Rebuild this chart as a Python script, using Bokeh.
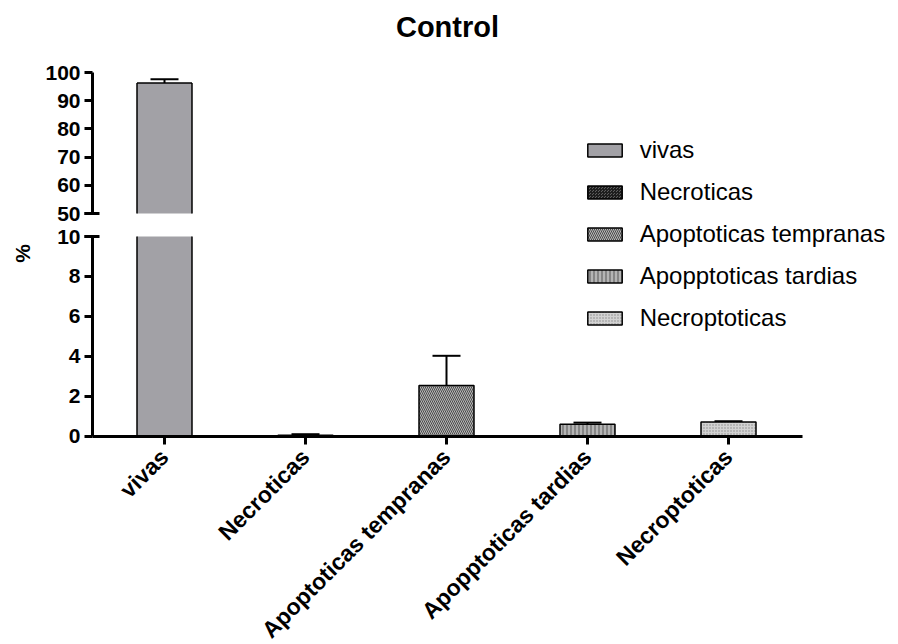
import math
from bokeh.plotting import figure
from bokeh.models import (Range1d, LinearAxis, FixedTicker, ColumnDataSource, Whisker,
                          TeeHead, Legend, LegendItem, Label)
from bokeh.embed import file_html
from bokeh.resources import INLINE

# ---------------- data ----------------
categories = ["vivas", "Necroticas", "Apoptoticas tempranas", "Apopptoticas tardias", "Necroptoticas"]
means = [96.3, 0.04, 2.53, 0.59, 0.70]
sds = [1.3, 0.05, 1.49, 0.08, 0.04]
lower_ticks = [0, 2, 4, 6, 8, 10]
upper_ticks = [50, 60, 70, 80, 90, 100]
title_text = "Control"
y_label = "%"

# ---------------- styles ----------------
fills = ["#a2a1a6", "#5e5e5e", "#b8b8b8", "#b4b4b4", "#d2d2d2"]
hatches = [None, "criss_cross", "left_diagonal_line", "vertical_line", "dot"]
hatch_colors = ["black", "#1e1e1e", "#4a4a4a", "#555555", "#8a8a8a"]
hatch_scales = [4, 3, 4, 4, 3]
FONT = "Liberation Sans"

# ---------------- layout (pixels, canvas top-left = page top-left) ----------------
W, H = 896, 642
axis_x_px = 92.0         # y-axis line, from canvas left
axis_right_px = 802.0    # end of x-axis line
first_center_px = 164.0  # first category centre
px_per_cat = 141.0
zero_px = H - 435.5      # y=0 line, from canvas bottom
lower_span_px = 199.5    # 0..10
gap_px = 23.0            # break gap
upper_span_px = 141.0    # 50..100

x_start = -first_center_px / px_per_cat
x_end = x_start + W / px_per_cat
axis_x = x_start + axis_x_px / px_per_cat
axis_x_end = x_start + axis_right_px / px_per_cat

lo_scale = lower_span_px / (lower_ticks[-1] - lower_ticks[0])
lower_start = lower_ticks[0] - zero_px / lo_scale
lower_end = lower_start + H / lo_scale
up_scale = upper_span_px / (upper_ticks[-1] - upper_ticks[0])
upper_start = upper_ticks[0] - (zero_px + lower_span_px + gap_px) / up_scale
upper_end = upper_start + H / up_scale

bar_w = 0.39

p = figure(width=W, height=H, output_backend="svg", toolbar_location=None,
           x_range=Range1d(x_start, x_end), y_range=Range1d(lower_start, lower_end),
           x_axis_type=None, y_axis_type=None,
           min_border_left=0, min_border_right=0, min_border_top=0, min_border_bottom=0)
p.extra_y_ranges = {"upper": Range1d(upper_start, upper_end)}
p.outline_line_color = None
p.background_fill_color = "white"
p.border_fill_color = "white"

xs = list(range(len(categories)))
lo_top = lower_ticks[-1]
up_bot = upper_ticks[0]

# ---------------- bars ----------------
renderers = []
for i, m in enumerate(means):
    broken = m > up_bot
    style = dict(width=bar_w, fill_color=fills[i],
                 line_color=None if broken else "black", line_width=1.5,
                 hatch_pattern=hatches[i], hatch_color=hatch_colors[i],
                 hatch_scale=hatch_scales[i], hatch_weight=1)
    src_low = ColumnDataSource(dict(x=[xs[i]], top=[min(m, lo_top)]))
    r = p.vbar(x="x", top="top", bottom=lower_ticks[0], source=src_low, **style)
    renderers.append(r)
    if broken:
        src_up = ColumnDataSource(dict(x=[xs[i]], top=[m]))
        p.vbar(x="x", top="top", bottom=up_bot, source=src_up,
               y_range_name="upper", **style)
        # outline of the broken bar: side edges in both segments and the top edge
        xl, xr = xs[i] - bar_w / 2, xs[i] + bar_w / 2
        p.segment(x0=[xl, xr], y0=[lower_ticks[0]] * 2, x1=[xl, xr], y1=[lo_top] * 2,
                  line_color="black", line_width=1.5)
        p.segment(x0=[xl, xr, xl], y0=[up_bot, up_bot, m], x1=[xl, xr, xr], y1=[m, m, m],
                  line_color="black", line_width=1.5, y_range_name="upper")
# legend proxy keeps the outlined swatch for every category
legend_renderers = []
for i in xs:
    src = ColumnDataSource(dict(x=[xs[i]], top=[means[i]]))
    lr = p.vbar(x="x", top="top", bottom=0, width=bar_w, source=src, fill_color=fills[i],
                line_color="black", line_width=1.5, hatch_pattern=hatches[i],
                hatch_color=hatch_colors[i], hatch_scale=hatch_scales[i], hatch_weight=1,
                visible=False)
    legend_renderers.append(lr)

# ---------------- error bars ----------------
low_i = [i for i, m in enumerate(means) if m <= lo_top]
up_i = [i for i, m in enumerate(means) if m > up_bot]

src_wl = ColumnDataSource(dict(x=[xs[i] for i in low_i],
                               lower=[means[i] for i in low_i],
                               upper=[means[i] + sds[i] for i in low_i]))
p.add_layout(Whisker(source=src_wl, base="x", lower="lower", upper="upper",
                     line_width=2, line_color="black", lower_head=None,
                     upper_head=TeeHead(size=28, line_width=2, line_color="black")))

src_wu = ColumnDataSource(dict(x=[xs[i] for i in up_i],
                               lower=[means[i] - sds[i] for i in up_i],
                               upper=[means[i] + sds[i] for i in up_i]))
p.add_layout(Whisker(source=src_wu, base="x", lower="lower", upper="upper",
                     y_range_name="upper", line_width=2, line_color="black",
                     lower_head=TeeHead(size=28, line_width=2, line_color="black"),
                     upper_head=TeeHead(size=28, line_width=2, line_color="black")))

# ---------------- axes ----------------
def style_axis(ax, size="21px"):
    ax.axis_line_width = 3
    ax.axis_line_color = "black"
    ax.major_tick_line_width = 3
    ax.major_tick_line_color = "black"
    ax.major_tick_out = 8
    ax.major_tick_in = 0
    ax.minor_tick_out = 0
    ax.minor_tick_in = 0
    ax.major_label_text_font = FONT
    ax.major_label_text_font_style = "bold"
    ax.major_label_text_font_size = size
    ax.major_label_text_color = "black"
    ax.major_label_standoff = 4

ax_low = LinearAxis(ticker=FixedTicker(ticks=lower_ticks),
                    bounds=(lower_ticks[0], lo_top), fixed_location=axis_x)
style_axis(ax_low)
p.add_layout(ax_low, "left")

ax_up = LinearAxis(y_range_name="upper", ticker=FixedTicker(ticks=upper_ticks),
                   bounds=(up_bot, upper_ticks[-1]), fixed_location=axis_x)
style_axis(ax_up)
p.add_layout(ax_up, "left")

# break marks (ticks crossing the axis at the break)
brk_lo = LinearAxis(ticker=FixedTicker(ticks=[lo_top]), fixed_location=axis_x,
                    major_label_overrides={lo_top: ""})
style_axis(brk_lo)
brk_lo.axis_line_color = None
brk_lo.major_tick_in = 7
p.add_layout(brk_lo, "left")
brk_up = LinearAxis(y_range_name="upper", ticker=FixedTicker(ticks=[up_bot]),
                    fixed_location=axis_x, major_label_overrides={up_bot: ""})
style_axis(brk_up)
brk_up.axis_line_color = None
brk_up.major_tick_in = 7
p.add_layout(brk_up, "left")

ax_x = LinearAxis(ticker=FixedTicker(ticks=xs), fixed_location=lower_ticks[0],
                  bounds=(axis_x, axis_x_end),
                  major_label_overrides={i: c for i, c in zip(xs, categories)},
                  major_label_orientation=math.pi / 4)
style_axis(ax_x, size="23px")
ax_x.major_label_standoff = 9
p.add_layout(ax_x, "below")

# ---------------- legend ----------------
legend = Legend(items=[LegendItem(label=c, renderers=[r]) for c, r in zip(categories, legend_renderers)],
                location=(582.7, H - 332), orientation="vertical",
                glyph_width=43, glyph_height=16, label_standoff=14,
                label_text_font=FONT, label_text_font_size="24px", label_text_color="black",
                label_height=28, spacing=14, padding=0, margin=0,
                border_line_color=None, background_fill_alpha=0)
p.add_layout(legend)

# ---------------- title and y label ----------------
p.add_layout(Label(x=447, y=H - 26, x_units="screen", y_units="screen",
                   text=title_text, text_align="center", text_baseline="middle",
                   text_font=FONT, text_font_style="bold", text_font_size="29px",
                   text_color="black"))
p.add_layout(Label(x=22, y=H - 253, x_units="screen", y_units="screen",
                   text=y_label, angle=math.pi / 2, text_align="center", text_baseline="middle",
                   text_font=FONT, text_font_style="bold", text_font_size="21px",
                   text_color="black"))

open("out.html", "w").write(file_html(p, INLINE))
